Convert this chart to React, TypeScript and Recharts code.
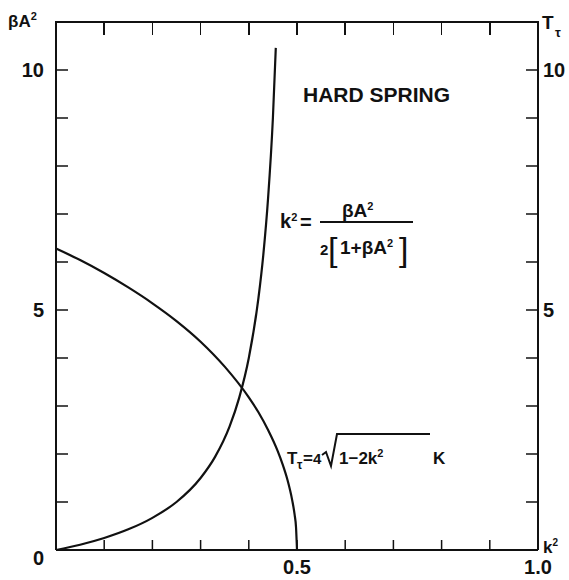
import { LineChart, Line, XAxis, YAxis } from "recharts";

// k^2 and beta*A^2
const kSqHard = [0, 0.05, 0.1, 0.15, 0.2, 0.25, 0.3, 0.33, 0.36, 0.38, 0.4, 0.42, 0.43, 0.44, 0.45, 0.456];
const betaA2 = [0, 0.11, 0.25, 0.43, 0.67, 1.0, 1.5, 1.94, 2.57, 3.17, 4.0, 5.25, 6.14, 7.33, 9.0, 10.46];

// k^2 and T_tau
const kSqPeriod = [0, 0.05, 0.1, 0.15, 0.2, 0.25, 0.3, 0.35, 0.4, 0.42, 0.44, 0.46, 0.47, 0.48, 0.49, 0.495, 0.498, 0.5];
const periodT = [6.28, 6.04, 5.77, 5.47, 5.14, 4.77, 4.34, 3.82, 3.18, 2.87, 2.5, 2.06, 1.79, 1.47, 1.04, 0.74, 0.47, 0];

const xTicks = [0, 0.1, 0.2, 0.3, 0.4, 0.5, 0.6, 0.7, 0.8, 0.9, 1.0];
const topTicks = [0.1, 0.2, 0.3, 0.4, 0.5, 0.6, 0.7, 0.8, 0.9];
const yTicks = [0, 1, 2, 3, 4, 5, 6, 7, 8, 9, 10];
const xTickLabels: Record<string, string> = { "0.5": "0.5", "1": "1.0" };
const yTickLabels: Record<string, string> = { "0": "0", "5": "5", "10": "10" };
const rightTickLabels: Record<string, string> = { "5": "5", "10": "10" };
const Y_MAX = 11;

const hardData = kSqHard.map((k, i) => ({ k, v: betaA2[i] }));
const periodData = kSqPeriod.map((k, i) => ({ k, v: periodT[i] }));

const FONT = "'Liberation Sans', Arial, sans-serif";
const INK = "#111";

// plot box in page pixels (from the chart margins / axis sizes below)
const PLOT_LEFT = 56;
const PLOT_RIGHT = 538;
const PLOT_TOP = 22;

const LeftTick = ({ x, y, payload }: any) => {
  const label = yTickLabels[String(payload.value)];
  if (!label) return <g />;
  return (
    <text
      x={x}
      y={y + (payload.value === 0 ? 8 : 0)}
      dy="0.36em"
      textAnchor="end"
      fontSize={20}
      fontWeight="bold"
      fontFamily={FONT}
      fill={INK}
    >
      {label}
    </text>
  );
};

function TopFrame() {
  const span = PLOT_RIGHT - PLOT_LEFT;
  return (
    <>
      <div
        style={{
          position: "absolute",
          left: PLOT_LEFT - 1,
          top: PLOT_TOP - 1,
          width: span + 2,
          height: 2,
          background: INK,
        }}
      />
      {topTicks.map((k) => (
        <div
          key={k}
          style={{
            position: "absolute",
            left: PLOT_LEFT + k * span - 0.75,
            top: PLOT_TOP,
            width: 1.5,
            height: 13,
            background: INK,
          }}
        />
      ))}
    </>
  );
}

function Annotations() {
  const t = { fontFamily: FONT, fill: INK, fontWeight: "bold" as const };
  return (
    <svg
      width={569}
      height={580}
      style={{ position: "absolute", left: 0, top: 0, pointerEvents: "none" }}
    >
      {/* axis titles */}
      <text x={8} y={27} fontSize={17} {...t}>
        βA<tspan dy={-7} fontSize={11}>2</tspan>
      </text>
      <text x={542} y={29} fontSize={19} {...t}>T</text>
      <text x={555} y={37} fontSize={13} {...t}>τ</text>
      <text x={543} y={553} fontSize={17} {...t}>
        k<tspan dy={-7} fontSize={10}>2</tspan>
      </text>

      <text x={303} y={102} fontSize={21} {...t}>HARD SPRING</text>

      {/* k^2 = beta A^2 / (2[1 + beta A^2]) */}
      <text x={280} y={228} fontSize={20} {...t}>
        k<tspan dy={-7} fontSize={11}>2</tspan>
      </text>
      <text x={300} y={229} fontSize={20} {...t}>=</text>
      <text x={342} y={217} fontSize={19} {...t}>
        βA<tspan dy={-7} fontSize={11}>2</tspan>
      </text>
      <line x1={320} x2={413} y1={222} y2={222} stroke={INK} strokeWidth={2} />
      <text x={320} y={255} fontSize={15} {...t}>2</text>
      <text x={328} y={261} fontSize={34} fontFamily={FONT} fill={INK}>[</text>
      <text x={340} y={254} fontSize={19} {...t}>
        1+βA<tspan dy={-7} fontSize={11}>2</tspan>
      </text>
      <text x={399} y={261} fontSize={34} fontFamily={FONT} fill={INK}>]</text>

      {/* T_tau = 4 sqrt(1 - 2k^2) K */}
      <text x={287} y={464} fontSize={17} {...t}>T</text>
      <text x={297} y={469} fontSize={12} {...t}>τ</text>
      <text x={303} y={464} fontSize={17} {...t}>=</text>
      <text x={313} y={464} fontSize={15} {...t}>4</text>
      <polyline
        points="322,455 326,452 331,466 337,434 430,434"
        fill="none"
        stroke={INK}
        strokeWidth={2}
      />
      <text x={339} y={464} fontSize={17} {...t}>
        1−2k<tspan dy={-7} fontSize={11}>2</tspan>
      </text>
      <text x={433} y={464} fontSize={17} {...t}>K</text>
    </svg>
  );
}

export default function App() {
  return (
    <div
      style={{
        position: "absolute",
        left: 0,
        top: 0,
        width: 569,
        height: 580,
        background: "#fff",
      }}
    >
      <LineChart
        width={569}
        height={580}
        margin={{ top: PLOT_TOP, right: 0, bottom: 0, left: 0 }}
      >
        <XAxis
          xAxisId="bottom"
          dataKey="k"
          type="number"
          domain={[0, 1]}
          ticks={xTicks}
          height={30}
          orientation="bottom"
          axisLine={{ stroke: INK, strokeWidth: 2 }}
          tickLine={{ stroke: INK, strokeWidth: 1.5 }}
          tickSize={-10}
          tickMargin={20}
          tickFormatter={(v: number) => xTickLabels[String(v)] ?? ""}
          tick={{ fontSize: 20, fontWeight: "bold", fontFamily: FONT, fill: INK }}
          interval={0}
        />
        <YAxis
          yAxisId="left"
          type="number"
          domain={[0, Y_MAX]}
          ticks={yTicks}
          width={PLOT_LEFT}
          orientation="left"
          axisLine={{ stroke: INK, strokeWidth: 2 }}
          tickLine={{ stroke: INK, strokeWidth: 1.5 }}
          tickSize={-12}
          tickMargin={24}
          tick={<LeftTick />}
          interval={0}
        />
        <YAxis
          yAxisId="right"
          type="number"
          domain={[0, Y_MAX]}
          ticks={yTicks}
          width={569 - PLOT_RIGHT}
          orientation="right"
          axisLine={{ stroke: INK, strokeWidth: 2 }}
          tickLine={{ stroke: INK, strokeWidth: 1.5 }}
          tickSize={-12}
          tickMargin={17}
          tickFormatter={(v: number) => rightTickLabels[String(v)] ?? ""}
          tick={{ fontSize: 20, fontWeight: "bold", fontFamily: FONT, fill: INK }}
          interval={0}
        />
        <Line
          xAxisId="bottom"
          yAxisId="left"
          data={hardData}
          dataKey="v"
          type="monotone"
          stroke={INK}
          strokeWidth={2.2}
          dot={false}
          isAnimationActive={false}
        />
        <Line
          xAxisId="bottom"
          yAxisId="left"
          data={periodData}
          dataKey="v"
          type="monotone"
          stroke={INK}
          strokeWidth={2.2}
          dot={false}
          isAnimationActive={false}
        />
        {/* invisible series so the right axis gets its ticks */}
        <Line
          xAxisId="bottom"
          yAxisId="right"
          data={periodData}
          dataKey="v"
          stroke="none"
          dot={false}
          activeDot={false}
          isAnimationActive={false}
        />
      </LineChart>
      <TopFrame />
      <Annotations />
    </div>
  );
}
